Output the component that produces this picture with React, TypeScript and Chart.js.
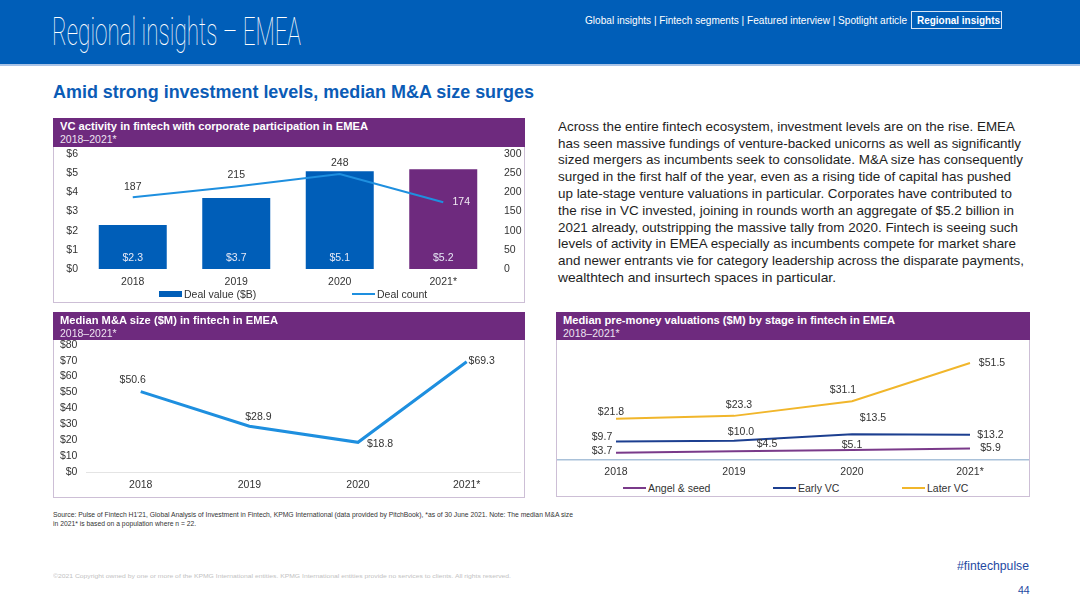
import React, { useEffect, useLayoutEffect, useRef } from "react";
import { Chart, registerables } from "chart.js";

Chart.register(...registerables);

const FONT = '"Liberation Sans", Arial, Helvetica, sans-serif';
const LABEL_FONT = `10.5px ${FONT}`;

// ---------- data ----------
// Chart 1: VC activity in fintech with corporate participation in EMEA
const vcYears = ["2018", "2019", "2020", "2021*"];
const vcDealValue = [2.3, 3.7, 5.1, 5.2]; // $B
const vcDealCount = [187, 215, 248, 174];

// Chart 2: Median M&A size ($M)
const maYears = ["2018", "2019", "2020", "2021*"];
const maMedianSize = [50.6, 28.9, 18.8, 69.3];

// Chart 3: Median pre-money valuations ($M) by stage
const valYears = ["2018", "2019", "2020", "2021*"];
const angelSeed = [3.7, 4.5, 5.1, 5.9];
const earlyVC = [9.7, 10.0, 13.5, 13.2];
const laterVC = [21.8, 23.3, 31.1, 51.5];

const paragraphLines = [
  "Across the entire fintech ecosystem, investment levels are on the rise. EMEA",
  "has seen massive fundings of venture-backed unicorns as well as significantly",
  "sized mergers as incumbents seek to consolidate. M&A size has consequently",
  "surged in the first half of the year, even as a rising tide of capital has pushed",
  "up late-stage venture valuations in particular. Corporates have contributed to",
  "the rise in VC invested, joining in rounds worth an aggregate of $5.2 billion in",
  "2021 already, outstripping the massive tally from 2020. Fintech is seeing such",
  "levels of activity in EMEA especially as incumbents compete for market share",
  "and newer entrants vie for category leadership across the disparate payments,",
  "wealthtech and insurtech spaces in particular.",
];
const paragraphWidths = [457, 463, 465, 453, 454, 456, 460, 458, 466, 278];

// ---------- styles ----------
const BLUE = "#005EB8";
const PURPLE = "#6E2A7E";
const LIGHT_BLUE = "#1E8FDF";
const DARK_BLUE = "#1C3F90";
const GOLD = "#F1B62B";
const ANGEL = "#7A3A8A";
const TEXT = "#333333";

const money = (v: number) => "$" + v.toFixed(1);

type LabelSet = {
  dataset: number;
  text: (v: number) => string;
  offsets: number[][];
  colors: string | string[];
  fromBase?: boolean;
};

function makeLabels(sets: LabelSet[]) {
  return {
    id: "valueLabels",
    afterDatasetsDraw(chart: any) {
      const ctx = chart.ctx as CanvasRenderingContext2D;
      sets.forEach((s) => {
        const meta = chart.getDatasetMeta(s.dataset);
        const values = chart.data.datasets[s.dataset].data as number[];
        ctx.save();
        ctx.font = LABEL_FONT;
        ctx.textAlign = "center";
        ctx.textBaseline = "middle";
        meta.data.forEach((el: any, i: number) => {
          const [dx, dy] = s.offsets[i];
          const y = s.fromBase ? el.base : el.y;
          ctx.fillStyle = Array.isArray(s.colors) ? s.colors[i] : s.colors;
          ctx.fillText(s.text(values[i]), el.x + dx, y + dy);
        });
        ctx.restore();
      });
    },
  };
}

// fix a vertical axis' width and drop the label overhang padding so chartArea follows layout padding
const fixY = (w: number) => (s: any) => {
  s.width = w;
  s.paddingTop = 0;
  s.paddingBottom = 0;
};

function ChartBox(props: { left: number; top: number; width: number; height: number; make: () => any }) {
  const ref = useRef<HTMLCanvasElement>(null);
  useEffect(() => {
    const chart = new Chart(ref.current as HTMLCanvasElement, props.make());
    return () => chart.destroy();
  }, []);
  return (
    <canvas
      ref={ref}
      width={props.width}
      height={props.height}
      style={{ position: "absolute", left: props.left, top: props.top, width: props.width, height: props.height }}
    />
  );
}

function Fit(props: { w: number; style?: React.CSSProperties; children: React.ReactNode }) {
  const ref = useRef<HTMLSpanElement>(null);
  useLayoutEffect(() => {
    const fit = () => {
      const el = ref.current;
      if (!el) return;
      el.style.transform = "none";
      const actual = el.getBoundingClientRect().width;
      if (actual > 0) el.style.transform = `scaleX(${props.w / actual})`;
    };
    fit();
    (document as any).fonts?.ready?.then(fit);
  }, [props.w]);
  return (
    <span
      ref={ref}
      style={{ display: "inline-block", whiteSpace: "nowrap", transformOrigin: "left center", ...props.style }}
    >
      {props.children}
    </span>
  );
}

function Txt(props: {
  x: number;
  cy: number;
  size: number;
  w?: number;
  color?: string;
  weight?: number | string;
  family?: string;
  children: React.ReactNode;
}) {
  const style: React.CSSProperties = {
    position: "absolute",
    left: props.x,
    top: props.cy - props.size / 2,
    fontSize: props.size,
    lineHeight: `${props.size}px`,
    color: props.color || TEXT,
    fontWeight: props.weight as any,
    fontFamily: props.family || FONT,
    whiteSpace: "nowrap",
  };
  return <div style={style}>{props.w ? <Fit w={props.w}>{props.children}</Fit> : props.children}</div>;
}

function Panel(props: { left: number; top: number; width: number; height: number; headH: number; title: string; titleW: number }) {
  return (
    <div
      style={{
        position: "absolute",
        left: props.left,
        top: props.top,
        width: props.width,
        height: props.height,
        border: "1px solid #CDBFD6",
        boxSizing: "border-box",
      }}
    >
      <div style={{ position: "absolute", left: -1, top: -1, right: -1, height: props.headH, background: PURPLE }}>
        <Txt x={7} cy={9} size={11.5} w={props.titleW} color="#fff" weight={700}>
          {props.title}
        </Txt>
        <Txt x={7} cy={21} size={10.5} color="#EDE3F0">
          2018–2021*
        </Txt>
      </div>
    </div>
  );
}

function LegendItem(props: { x: number; cy: number; color: string; label: string; kind: "rect" | "line" }) {
  return (
    <>
      <div
        style={{
          position: "absolute",
          left: props.x,
          top: props.kind === "rect" ? props.cy - 3 : props.cy - 1,
          width: 23,
          height: props.kind === "rect" ? 6 : 2,
          background: props.color,
        }}
      />
      <Txt x={props.x + 25} cy={props.cy} size={10.5}>
        {props.label}
      </Txt>
    </>
  );
}

const tickFont = { family: FONT, size: 10.5 };

function vcConfig() {
  return {
    type: "bar",
    data: {
      labels: vcYears,
      datasets: [
        {
          type: "bar",
          label: "Deal value ($B)",
          data: vcDealValue,
          backgroundColor: [BLUE, BLUE, BLUE, PURPLE],
          borderWidth: 0,
          yAxisID: "y",
          barPercentage: 0.657,
          categoryPercentage: 1,
          order: 2,
        },
        {
          type: "line",
          label: "Deal count",
          data: vcDealCount,
          borderColor: LIGHT_BLUE,
          borderWidth: 2,
          pointRadius: 0,
          tension: 0,
          yAxisID: "y1",
          order: 1,
        },
      ],
    },
    options: {
      animation: false,
      responsive: false,
      layout: { padding: { top: 7, left: 0, right: 0, bottom: 0 } },
      plugins: { legend: { display: false }, tooltip: { enabled: false } },
      scales: {
        x: {
          grid: { display: false, drawTicks: false },
          border: { display: false },
          ticks: { font: tickFont, color: TEXT, padding: 7 },
          afterFit: (s: any) => {
            s.height = 21;
          },
        },
        y: {
          position: "left",
          min: 0,
          max: 6,
          grid: { display: false, drawTicks: false },
          border: { display: false },
          ticks: { stepSize: 1, autoSkip: false, font: tickFont, color: TEXT, padding: 3, callback: (v: any) => "$" + v },
          afterFit: fixY(27),
        },
        y1: {
          position: "right",
          min: 0,
          max: 300,
          grid: { display: false, drawTicks: false },
          border: { display: false },
          ticks: { stepSize: 50, autoSkip: false, font: tickFont, color: TEXT, padding: 9 },
          afterFit: fixY(29),
        },
      },
    },
    plugins: [
      makeLabels([
        { dataset: 0, text: money, offsets: [[0, -11], [0, -11], [0, -11], [0, -11]], colors: "#E6E8F5", fromBase: true },
        {
          dataset: 1,
          text: (v) => String(v),
          offsets: [[0, -10], [0, -11.5], [0, -11], [18, 0]],
          colors: [TEXT, TEXT, TEXT, "#F2ECF4"],
        },
      ]),
    ],
  };
}

function maConfig() {
  return {
    type: "line",
    data: {
      labels: maYears,
      datasets: [
        {
          label: "Median M&A size ($M)",
          data: maMedianSize,
          borderColor: LIGHT_BLUE,
          borderWidth: 3,
          pointRadius: 0,
          tension: 0,
        },
      ],
    },
    options: {
      animation: false,
      responsive: false,
      layout: { padding: { top: 6.7, left: 0, right: 3, bottom: 0 } },
      plugins: { legend: { display: false }, tooltip: { enabled: false } },
      scales: {
        x: {
          offset: true,
          grid: { display: false, drawTicks: false },
          border: { display: false },
          ticks: { font: tickFont, color: TEXT, padding: 7 },
          afterFit: (s: any) => {
            s.height = 22.7;
          },
        },
        y: {
          min: 0,
          max: 80,
          border: { display: false },
          grid: {
            drawTicks: false,
            color: (c: any) => (c.tick && c.tick.value === 0 ? "#E4E4E4" : "rgba(0,0,0,0)"),
          },
          ticks: {
            stepSize: 10,
            autoSkip: false,
            font: tickFont,
            color: TEXT,
            padding: 9,
            callback: (v: any) => "$" + v,
          },
          afterFit: fixY(32.4),
        },
      },
    },
    plugins: [
      makeLabels([
        { dataset: 0, text: money, offsets: [[-8, -11], [9, -9], [22, 2], [15, -1]], colors: TEXT },
      ]),
    ],
  };
}

function valConfig() {
  return {
    type: "line",
    data: {
      labels: valYears,
      datasets: [
        { label: "Angel & seed", data: angelSeed, borderColor: ANGEL, borderWidth: 2, pointRadius: 0, tension: 0 },
        { label: "Early VC", data: earlyVC, borderColor: DARK_BLUE, borderWidth: 2, pointRadius: 0, tension: 0 },
        { label: "Later VC", data: laterVC, borderColor: GOLD, borderWidth: 2, pointRadius: 0, tension: 0 },
      ],
    },
    options: {
      animation: false,
      responsive: false,
      layout: { padding: { top: 8, left: 0, right: 0, bottom: 0 } },
      plugins: { legend: { display: false }, tooltip: { enabled: false } },
      scales: {
        x: {
          offset: true,
          grid: { display: false, drawTicks: false },
          border: { display: true, color: "#A9C1D9", width: 1.5 },
          ticks: { font: tickFont, color: TEXT, padding: 6 },
          afterFit: (s: any) => {
            s.height = 20.4;
          },
        },
        y: { display: false, min: 0, max: 60 },
      },
    },
    plugins: [
      makeLabels([
        { dataset: 0, text: money, offsets: [[-14, -1.5], [33, -7], [0, -4.5], [20.5, 0]], colors: TEXT },
        { dataset: 1, text: money, offsets: [[-14, -4], [7, -8.5], [21, -16], [20.5, 0]], colors: TEXT },
        { dataset: 2, text: money, offsets: [[-5, -7], [5, -11], [-9, -11.5], [22, 0]], colors: TEXT },
      ]),
    ],
  };
}

export default function App() {
  return (
    <div
      style={{
        position: "fixed",
        left: 0,
        top: 0,
        width: 1080,
        height: 607,
        background: "#fff",
        overflow: "hidden",
        fontFamily: FONT,
      }}
    >
      {/* Header band */}
      <div style={{ position: "absolute", left: 0, top: 0, width: 1080, height: 64, background: BLUE }} />
      <div style={{ position: "absolute", left: 0, top: 64, width: 1080, height: 2, background: "#A9C3E6" }} />
      <div
        style={{
          position: "absolute",
          left: 52,
          top: 13,
          fontSize: 38,
          lineHeight: "38px",
          color: "#fff",
          fontFamily: "Roboto, 'Liberation Sans', sans-serif",
          fontWeight: 100,
        }}
      >
        <Fit w={249}>Regional insights – EMEA</Fit>
      </div>
      <Txt x={585} cy={20} size={10.5} w={322} color="#fff">
        Global insights | Fintech segments | Featured interview | Spotlight article
      </Txt>
      <div
        style={{
          position: "absolute",
          left: 911,
          top: 11,
          width: 91,
          height: 18,
          border: "1px solid #D6E4F5",
          boxSizing: "border-box",
        }}
      />
      <Txt x={917} cy={20} size={10.5} w={83} color="#fff" weight={700}>
        Regional insights
      </Txt>

      {/* Slide subtitle */}
      <Txt x={53} cy={93} size={17.5} w={481} color="#0B5CB6" weight={700}>
        Amid strong investment levels, median M&amp;A size surges
      </Txt>

      {/* Paragraph */}
      {paragraphLines.map((line, i) => (
        <div
          key={i}
          style={{
            position: "absolute",
            left: 558,
            top: 119.7 + 16.8 * i,
            fontSize: 13,
            lineHeight: "13px",
            color: "#1E1E1E",
            whiteSpace: "nowrap",
          }}
        >
          <Fit w={paragraphWidths[i]}>{line}</Fit>
        </div>
      ))}

      {/* Panel 1 */}
      <Panel left={53} top={118} width={472} height={185} headH={29} title="VC activity in fintech with corporate participation in EMEA" titleW={308} />
      <ChartBox left={54} top={147} width={470} height={143} make={vcConfig} />
      <LegendItem x={159} cy={294} color={BLUE} label="Deal value ($B)" kind="rect" />
      <LegendItem x={352} cy={294} color={LIGHT_BLUE} label="Deal count" kind="line" />

      {/* Panel 2 */}
      <Panel left={53} top={312} width={472} height={186} headH={28} title="Median M&A size ($M) in fintech in EMEA" titleW={218} />
      <ChartBox left={54} top={338} width={470} height={157} make={maConfig} />

      {/* Panel 3 */}
      <Panel left={556} top={312} width={474} height={185} headH={28} title="Median pre-money valuations ($M) by stage in fintech in EMEA" titleW={332} />
      <ChartBox left={557} top={339} width={472} height={141} make={valConfig} />
      <LegendItem x={623} cy={488} color={ANGEL} label="Angel & seed" kind="line" />
      <LegendItem x={773} cy={488} color={DARK_BLUE} label="Early VC" kind="line" />
      <LegendItem x={902} cy={488} color={GOLD} label="Later VC" kind="line" />

      {/* Footer */}
      <div style={{ position: "absolute", left: 53, top: 510, fontSize: 6.5, lineHeight: "9px", color: "#333" }}>
        <Fit w={520}>
          Source: Pulse of Fintech H1'21, Global Analysis of Investment in Fintech, KPMG International (data provided by
          PitchBook), *as of 30 June 2021. Note: The median M&amp;A size
          <br />
          in 2021* is based on a population where n = 22.
        </Fit>
      </div>
      <Txt x={53} cy={576} size={6} w={458} color="#C2C2C2">
        ©2021 Copyright owned by one or more of the KPMG International entities. KPMG International entities provide no
        services to clients. All rights reserved.
      </Txt>
      <Txt x={957} cy={566} size={13.5} w={72} color="#1E49A2">
        #fintechpulse
      </Txt>
      <Txt x={1018} cy={590} size={10.5} color="#1E49A2">
        44
      </Txt>
    </div>
  );
}
